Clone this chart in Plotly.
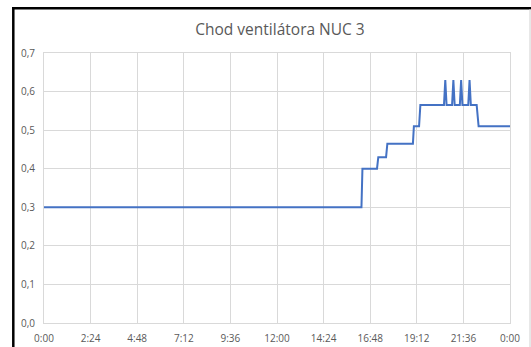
import plotly.graph_objects as go

# Fan speed log for NUC 3 over one day (time of day, relative fan speed)
times = ["0:00", "16:21", "16:24", "17:09", "17:13", "17:37", "17:41",
         "19:00", "19:03", "19:19", "19:23", "20:36", "20:40", "20:44",
         "21:01", "21:05", "21:09", "21:25", "21:29", "21:33", "21:51",
         "21:55", "21:59", "22:17", "22:23", "24:00"]
speed = [0.30, 0.30, 0.40, 0.40, 0.43, 0.43, 0.465,
         0.465, 0.51, 0.51, 0.565, 0.565, 0.63, 0.565,
         0.565, 0.63, 0.565, 0.565, 0.63, 0.565, 0.565,
         0.63, 0.565, 0.565, 0.51, 0.51]

x_tick_hours = [0, 2.4, 4.8, 7.2, 9.6, 12, 14.4, 16.8, 19.2, 21.6, 24]
x_tick_labels = ["0:00", "2:24", "4:48", "7:12", "9:36", "12:00",
                 "14:24", "16:48", "19:12", "21:36", "0:00"]
y_tick_values = [0, 0.1, 0.2, 0.3, 0.4, 0.5, 0.6, 0.7]
y_tick_labels = ["0,0", "0,1", "0,2", "0,3", "0,4", "0,5", "0,6", "0,7"]


def to_hours(t):
    h, m = t.split(":")
    return int(h) + int(m) / 60


hours = [to_hours(t) for t in times]

W, H = 531, 347
ML, MR, MT, MB = 44, 21, 53, 24
PW, PH = W - ML - MR, H - MT - MB


def px_x(p):
    return (p - ML) / PW


def px_y(p):
    return 1 - (p - MT) / PH


GRID = "#d9d9d9"
TEXT = "#595959"
FONT = "Open Sans"

fig = go.Figure(
    go.Scatter(
        x=hours, y=speed, mode="lines",
        line=dict(color="#4472C4", width=2),
        hoverinfo="skip",
    )
)

fig.update_layout(
    width=W, height=H,
    margin=dict(l=ML, r=MR, t=MT, b=MB, autoexpand=False),
    paper_bgcolor="white", plot_bgcolor="white",
    showlegend=False,
    title=dict(
        text="Chod ventilátora NUC 3",
        x=280 / W, xanchor="center",
        y=1 - 30 / H, yanchor="middle",
        font=dict(family=FONT, size=15.5, color=TEXT),
    ),
    font=dict(family=FONT, size=10, color=TEXT),
    shapes=[
        # frame around the chart
        dict(type="line", xref="paper", yref="paper",
             x0=px_x(13.3), x1=px_x(13.3), y0=px_y(7), y1=px_y(H + 2),
             line=dict(color="black", width=2.5)),
        dict(type="line", xref="paper", yref="paper",
             x0=px_x(12), x1=px_x(W + 2), y0=px_y(8.2), y1=px_y(8.2),
             line=dict(color="black", width=2.5)),
        dict(type="line", xref="paper", yref="paper",
             x0=px_x(530), x1=px_x(530), y0=px_y(9), y1=px_y(H + 2),
             line=dict(color="#d0d0d0", width=1)),
    ],
)

fig.update_xaxes(
    range=[0, 24], tickmode="array",
    tickvals=x_tick_hours, ticktext=x_tick_labels,
    showgrid=True, gridcolor=GRID, gridwidth=1,
    showline=True, linecolor=GRID, linewidth=1, mirror=True,
    zeroline=False, ticks="", ticklabelstandoff=6, automargin=False,
    tickfont=dict(family=FONT, size=10, color=TEXT),
)
fig.update_yaxes(
    range=[0, 0.7], tickmode="array",
    tickvals=y_tick_values, ticktext=y_tick_labels,
    showgrid=True, gridcolor=GRID, gridwidth=1,
    showline=True, linecolor=GRID, linewidth=1, mirror=True,
    zeroline=False, ticks="", ticklabelstandoff=6, automargin=False,
    tickfont=dict(family=FONT, size=10, color=TEXT),
)

fig.write_html("out.html")
